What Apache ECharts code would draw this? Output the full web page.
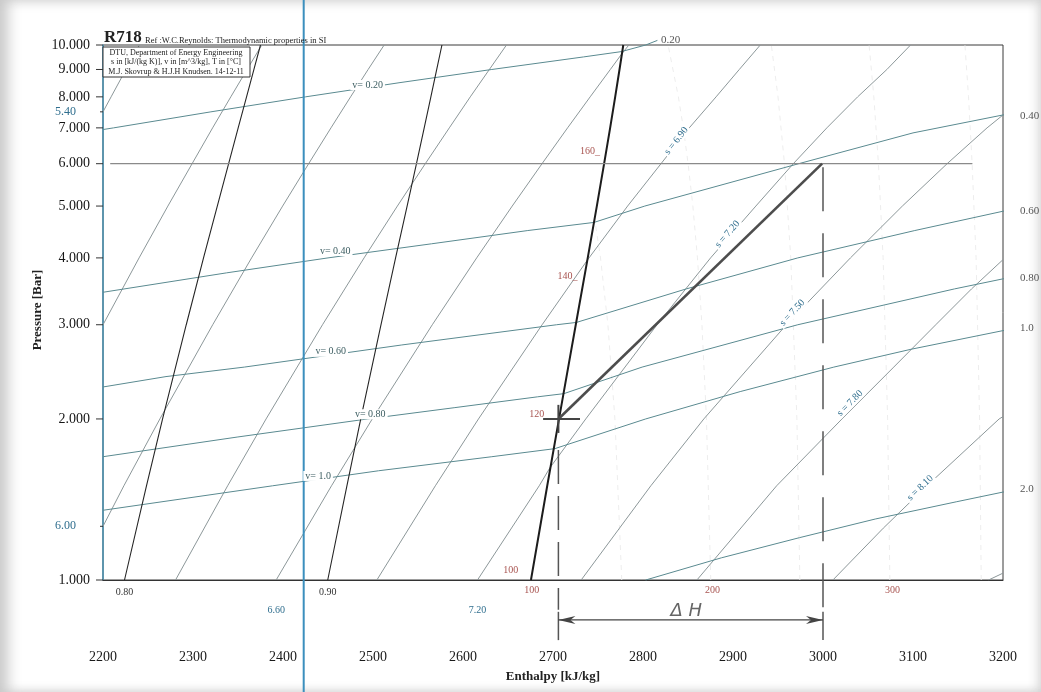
<!DOCTYPE html>
<html>
<head>
<meta charset="utf-8">
<script src="https://cdn.jsdelivr.net/npm/echarts@6/dist/echarts.min.js"></script>
<style>
html,body{margin:0;padding:0;background:#fff;}
#wrap{position:relative;width:1041px;height:692px;background:#fff;overflow:hidden;
 box-shadow: inset 16px 0 14px -8px #c9c9c9, inset 0 10px 12px -8px #d6d6d6, inset -10px 0 12px -8px #d2d2d2, inset 0 -8px 10px -6px #dcdcdc;}
#chart{position:absolute;left:0;top:0;width:1041px;height:692px;}
</style>
</head>
<body>
<div id="wrap"><div id="chart"></div></div>
<script>
// ---------------- axes ----------------
const hMin = 2200, hMax = 3200, hStep = 100;
const pMin = 1, pMax = 10;
const yTicks = [1, 2, 3, 4, 5, 6, 7, 8, 9, 10];
const yTickLabels = ['1.000','2.000','3.000','4.000','5.000','6.000','7.000','8.000','9.000','10.000'];

// ---------------- quality / saturation lines [h kJ/kg, p bar] ----------------
const quality080 = [[2223.9,1],[2248.3,1.5],[2266.2,2],[2292.5,3],[2311.7,4],[2327.0,5],[2339.6,6],[2350.2,7],[2359.5,8],[2367.7,9],[2375.0,10]];
const quality090 = [[2449.7,1],[2471.0,1.5],[2486.4,2],[2508.9,3],[2525.1,4],[2537.9,5],[2548.3,6],[2556.9,7],[2564.3,8],[2570.8,9],[2576.6,10]];
const satVapour  = [[2675.5,1],[2693.6,1.5],[2706.7,2],[2716.9,2.5],[2725.3,3],[2738.6,4],[2748.7,5],[2756.8,6],[2763.5,7],[2769.1,8],[2773.9,9],[2778.1,10]];

// ---------------- isochores (v in m3/kg) ----------------
const v020 = [[2200,6.95],[2211.8,7],[2319.9,7.5],[2425,8],[2528.9,8.5],[2632,9],[2734,9.5],[2776,9.72],[2803,10],[2816,10.2]];
const v040 = [[2200,3.45],[2337,3.75],[2450,4.0],[2565,4.25],[2672,4.5],[2745.6,4.66],[2802,5],[2973,6],[3100,6.85],[3200,7.4],[3218,7.48]];
const v060 = [[2200,2.295],[2270,2.4],[2357,2.5],[2532,2.75],[2704,3.0],[2726,3.03],[2848,3.5],[2972,4],[3102,4.5],[3200,4.89],[3216,4.95]];
const v080 = [[2200,1.70],[2349,1.85],[2494,2.0],[2591,2.1],[2683,2.2],[2712,2.23],[2799,2.5],[2972,3.0],[3146,3.5],[3200,3.655],[3216,3.7]];
const v100 = [[2200,1.35],[2388.5,1.5],[2506,1.6],[2632,1.7],[2702,1.76],[2803,2.0],[2908,2.25],[3012,2.5],[3098,2.7],[3200,2.925],[3216,2.96]];
const v200 = [[2803,1.0],[2887,1.1],[2974,1.2],[3058,1.3],[3148,1.4],[3200,1.46],[3216,1.475]];

// ---------------- isentropes (s in kJ/(kg K)) ----------------
const s540 = [[2200,7.5],[2209,8],[2225.5,9],[2240.4,10]];
const s570 = [[2200,3.0],[2240.1,4],[2272.1,5],[2299.0,6],[2321.8,7],[2342.0,8],[2360.1,9],[2376.4,10]];
const s600 = [[2200,1.26],[2223.2,1.5],[2263.2,2],[2321.9,3],[2365.1,4],[2399.6,5],[2428.5,6],[2453.3,7],[2475.1,8],[2494.6,9],[2512.4,10]];
const s630 = [[2280.6,1],[2338.5,1.5],[2381.2,2],[2443.9,3],[2490.1,4],[2527.1,5],[2558.1,6],[2584.8,7],[2608.1,8],[2629.3,9],[2648.3,10]];
const s660 = [[2392.4,1],[2453.9,1.5],[2499.2,2],[2565.9,3],[2615.2,4],[2654.7,5],[2687.8,6],[2716.2,7],[2741.3,8],[2763.7,9],[2776.5,9.63],[2784.3,10]];
const s690 = [[2504.3,1],[2569.3,1.5],[2617.2,2],[2687.9,3],[2738.1,3.96],[2782.9,5],[2820,6],[2851.4,7],[2881.2,8],[2907,9],[2930.3,10]];
const s720 = [[2616.1,1],[2684.7,1.5],[2696.5,1.62],[2736.4,2],[2815.6,3],[2875.1,4],[2925.4,5],[2967,6],[3004.3,7],[3038.5,8],[3071,9],[3097.3,10]];
const s750 = [[2731.3,1],[2808.7,1.5],[2867.6,2],[2959.3,3],[3030.5,4],[3088.2,5],[3137.9,6],[3182.3,7],[3200,7.4]];
const s780 = [[2859.9,1],[2948.5,1.5],[3021.1,2],[3078.6,2.5],[3125.3,3],[3165,3.5],[3200,3.97]];
const s810 = [[3011,1],[3067,1.25],[3115.5,1.5],[3195.7,2],[3200,2.02]];
const s840 = [[3184,1],[3200,1.03]];

// ---------------- superheated isotherms (faint, T in C) ----------------
const t150 = [[2776.4,1],[2768.8,2],[2761.0,3],[2752.8,4],[2746,4.76]];
const t200 = [[2875.3,1],[2870.5,2],[2865.5,3],[2860.5,4],[2855.4,5],[2850.1,6],[2844.8,7],[2839.3,8],[2827.9,10]];
const t250 = [[2974.3,1],[2971.0,2],[2964.2,4],[2957.2,6],[2950.0,8],[2942.6,10]];
const t300 = [[3074.3,1],[3071.8,2],[3066.8,4],[3061.6,6],[3056.5,8],[3051.2,10]];
const t350 = [[3175.8,1],[3174.0,2],[3170.1,4],[3165.7,6],[3161.7,8],[3157.7,10]];

// ---------------- hand-drawn process ----------------
const processLine = [[2706,2.0],[2999,6.0]];
const pressure6Line = [[2208,6],[3166,6]];
const cursorH = 2423;
const dHStart = 2706, dHEnd = 3000;

// ---------------- label texts ----------------
const isochoreNames = ['v= 0.20','v= 0.40','v= 0.60','v= 0.80','v= 1.0'];
const isochoreEndNames = ['0.20','0.40','0.60','0.80','1.0','2.0'];
const isentropeNames = ['s = 6.90','s = 7.20','s = 7.50','s = 7.80','s = 8.10'];
const tempNames = ['100','120','140_','160_'];

// ---------------- chart ----------------
const C = {
  quality: '#262626', sat: '#1c1c1c', isochore: '#5a8a90', isentrope: '#8c9799',
  faint: '#ededed', process: '#4d4d4d', p6: '#8a8a8a', cursor: '#3b8fbd',
  red: '#a85450', blue: '#2f6e8e', vlab: '#3c5d61', grey: '#555'
};
function ln(name, data, color, width, extra) {
  return Object.assign({
    type: 'line', name: name, data: data, symbol: 'none', showSymbol: false,
    silent: true, animation: false, smooth: false,
    lineStyle: { color: color, width: width }, z: 3
  }, extra || {});
}
const faintStyle = { color: C.faint, width: 1, type: [5, 5] };
const series = [
  ln('T150', t150, C.faint, 1, { lineStyle: faintStyle, z: 1 }),
  ln('T200', t200, C.faint, 1, { lineStyle: faintStyle, z: 1 }),
  ln('T250', t250, C.faint, 1, { lineStyle: faintStyle, z: 1 }),
  ln('T300', t300, C.faint, 1, { lineStyle: faintStyle, z: 1 }),
  ln('T350', t350, C.faint, 1, { lineStyle: faintStyle, z: 1 }),
  ln('s5.40', s540, C.isentrope, 1),
  ln('s5.70', s570, C.isentrope, 1),
  ln('s6.00', s600, C.isentrope, 1),
  ln('s6.30', s630, C.isentrope, 1),
  ln('s6.60', s660, C.isentrope, 1),
  ln('s6.90', s690, C.isentrope, 1),
  ln('s7.20', s720, C.isentrope, 1),
  ln('s7.50', s750, C.isentrope, 1),
  ln('s7.80', s780, C.isentrope, 1),
  ln('s8.10', s810, C.isentrope, 1),
  ln('s8.40', s840, C.isentrope, 1),
  ln('v0.20', v020, C.isochore, 1, { clip: false }),
  ln('v0.40', v040, C.isochore, 1, { clip: false }),
  ln('v0.60', v060, C.isochore, 1, { clip: false }),
  ln('v0.80', v080, C.isochore, 1, { clip: false }),
  ln('v1.0', v100, C.isochore, 1, { clip: false }),
  ln('v2.0', v200, C.isochore, 1, { clip: false }),
  ln('x0.80', quality080, C.quality, 1.1),
  ln('x0.90', quality090, C.quality, 1.1),
  ln('x1.00', satVapour, C.sat, 2),
  ln('p6', pressure6Line, C.p6, 1.2),
  ln('process', processLine, C.process, 2.6, { z: 6 })
];

const option = {
  animation: false,
  backgroundColor: 'transparent',
  textStyle: { fontFamily: '"Liberation Serif", "DejaVu Serif", serif' },
  grid: { left: 103, right: 38, top: 45, bottom: 112, show: true, borderColor: '#3a3a3a', borderWidth: 1, backgroundColor: 'transparent' },
  xAxis: {
    type: 'value', min: hMin, max: hMax, interval: hStep,
    axisLine: { show: true, lineStyle: { color: '#333', width: 1 } },
    axisTick: { show: false }, splitLine: { show: false },
    axisLabel: { margin: 70, color: '#1a1a1a', fontSize: 14, fontFamily: '"Liberation Serif", serif',
      formatter: function (v) { return String(v); } }
  },
  yAxis: {
    type: 'log', logBase: 10, min: pMin, max: pMax,
    axisLine: { show: true, lineStyle: { color: '#4a93b3', width: 1.5 } },
    axisTick: { show: false }, axisLabel: { show: false }, splitLine: { show: false }, minorTick: { show: false }
  },
  series: series
};

const chart = echarts.init(document.getElementById('chart'), null, { renderer: 'canvas' });
chart.setOption(option);

const P = (h, p) => chart.convertToPixel({ xAxisIndex: 0, yAxisIndex: 0 }, [h, p]);
const SERIF = '"Liberation Serif", "DejaVu Serif", serif';
function T(text, pt, font, fill, align, valign, rot, bg) {
  const o = { type: 'text', x: pt[0], y: pt[1], silent: true, z: 20,
    style: { text: text, font: font, fill: fill, align: align || 'center', verticalAlign: valign || 'middle' } };
  if (rot) o.rotation = rot * Math.PI / 180;
  if (bg) { o.style.backgroundColor = '#fff'; o.style.padding = [0, 2]; }
  return o;
}
function L(a, b, stroke, w, dash, z) {
  const o = { type: 'line', silent: true, z: z || 15, shape: { x1: a[0], y1: a[1], x2: b[0], y2: b[1] },
    style: { stroke: stroke, lineWidth: w } };
  if (dash) o.style.lineDash = dash;
  return o;
}
const g = [];
const H = chart.getHeight();

// cursor line (full height)
const cx = P(cursorH, 1)[0];
g.push(L([cx, 0], [cx, H], C.cursor, 2, null, 18));

// y ticks & labels
yTicks.forEach((v, i) => {
  const pt = P(hMin, v);
  g.push(L([pt[0] - 7, pt[1]], [pt[0], pt[1]], '#333', 1));
  g.push(T(yTickLabels[i], [pt[0] - 13, pt[1]], '14px ' + SERIF, '#151515', 'right', 'middle'));
});
// left isentrope labels (5.40 / 6.00) at the left end of those lines
[[s540[0], '5.40'], [s600[0], '6.00']].forEach(([pt0, t]) => {
  const pt = P(pt0[0], pt0[1]);
  g.push(L([pt[0] - 3, pt[1]], [pt[0], pt[1]], '#333', 1));
  g.push(T(t, [pt[0] - 48, pt[1]], '12px ' + SERIF, C.blue, 'left', 'middle'));
});

// bottom labels, anchored at 1 bar end of each line
const bottomLab = [
  [quality080[0][0], 0.950, '0.80', '#333'], [quality090[0][0], 0.950, '0.90', '#333'],
  [s660[0][0], 0.876, '6.60', C.blue], [s720[0][0], 0.879, '7.20', C.blue],
  [satVapour[0][0] + 1, 0.958, '100', C.red], [t200[0][0] + 2, 0.958, '200', C.red], [t300[0][0] + 3, 0.958, '300', C.red]
];
bottomLab.forEach(b => g.push(T(b[2], P(b[0], b[1]), '10px ' + SERIF, b[3])));

// temperatures on saturation line
const tempAnch = [[2653, 1.044], [2682, 2.043], [2716, 3.70], [2741, 6.33]];
tempNames.forEach((t, i) => g.push(T(t, P(tempAnch[i][0], tempAnch[i][1]), '10px ' + SERIF, C.red)));

// isochore inline labels
const vAnch = [[2494, 8.42], [2458, 4.12], [2453, 2.67], [2497, 2.04], [2439, 1.565]];
isochoreNames.forEach((t, i) => g.push(T(t, P(vAnch[i][0], vAnch[i][1]), '10px ' + SERIF, C.vlab, 'center', 'middle', 0, true)));
// isochore end labels (outside the frame)
const vEnd = [[2820, 10.22], [3219, 7.37], [3219, 4.89], [3219, 3.67], [3219, 2.96], [3219, 1.48]];
isochoreEndNames.forEach((t, i) => g.push(T(t, P(vEnd[i][0], vEnd[i][1]), '11px ' + SERIF, C.grey, 'left', 'middle')));

// isentrope inline labels (rotated)
const sAnch = [[2837, 6.62, 52], [2894, 4.43, 49], [2966, 3.16, 47], [3030, 2.14, 45], [3108, 1.486, 44]];
isentropeNames.forEach((t, i) => g.push(T(t, P(sAnch[i][0], sAnch[i][1]), '10px ' + SERIF, C.blue, 'center', 'middle', sAnch[i][2], true)));

// "+" at start point and dashed verticals
g.push(L(P(2689, 2.0), P(2730, 2.0), '#444', 2));
g.push(L(P(dHStart, 2.125), P(dHStart, 1.883), '#444', 2));
g.push(L(P(dHStart, 1.75), P(dHStart, 0.88), '#555', 1.5, [34, 12]));
g.push(L(P(dHStart, 0.872), P(dHStart, 0.772), '#555', 1.5));
g.push(L(P(dHEnd, 5.91), P(dHEnd, 0.88), '#555', 1.5, [44, 22]));
g.push(L(P(dHEnd, 0.872), P(dHEnd, 0.772), '#555', 1.5));
// delta H arrow
const a1 = P(dHStart, 0.842), a2 = P(dHEnd, 0.842);
g.push(L(a1, a2, '#444', 1.2));
g.push({ type: 'polygon', silent: true, z: 16, shape: { points: [[a1[0], a1[1]], [a1[0] + 17, a1[1] - 4], [a1[0] + 12, a1[1]], [a1[0] + 17, a1[1] + 4]] }, style: { fill: '#444' } });
g.push({ type: 'polygon', silent: true, z: 16, shape: { points: [[a2[0], a2[1]], [a2[0] - 17, a2[1] - 4], [a2[0] - 12, a2[1]], [a2[0] - 17, a2[1] + 4]] }, style: { fill: '#444' } });
g.push(T('\u0394 H', P(2848, 0.875), 'italic 18px "DejaVu Sans", sans-serif', '#666'));

// title and info box
g.push(T('R718', [104, 38], 'bold 17px ' + SERIF, '#222', 'left', 'middle'));
g.push(T('Ref :W.C.Reynolds: Thermodynamic properties in SI', [145, 41], '8.5px ' + SERIF, '#222', 'left', 'middle'));
g.push({ type: 'rect', silent: true, z: 19, shape: { x: 103, y: 47, width: 147, height: 30 }, style: { fill: '#fff', stroke: '#333', lineWidth: 1 } });
g.push(T('DTU, Department of Energy Engineering', [176, 52.5], '8px ' + SERIF, '#222'));
g.push(T('s in [kJ/(kg K)], v in [m^3/kg], T in [\u00b0C]', [176, 62], '8px ' + SERIF, '#222'));
g.push(T('M.J. Skovrup & H.J.H Knudsen. 14-12-11', [176, 71.5], '8px ' + SERIF, '#222'));

// axis names
g.push(T('Pressure [Bar]', [38, 310], 'bold 13px ' + SERIF, '#222', 'center', 'middle', 90));
g.push(T('Enthalpy [kJ/kg]', [553, 677], 'bold 13px ' + SERIF, '#222'));

chart.setOption({ graphic: { elements: g } });
</script>
</body>
</html>
